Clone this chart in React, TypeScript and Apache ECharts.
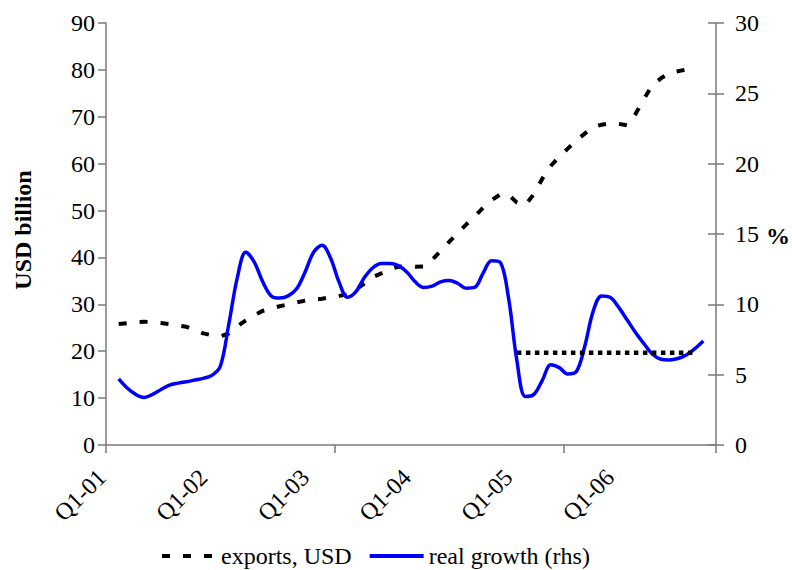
import React, { useEffect, useRef } from "react";
import * as echarts from "echarts";

const YEARS = ["01", "02", "03", "04", "05", "06"];
const MONTHS = ["01", "02", "03", "04", "05", "06", "07", "08", "09", "10", "11", "12"];
const TICK_LABELS = ["Q1-01", "Q1-02", "Q1-03", "Q1-04", "Q1-05", "Q1-06"];

// monthly categories, Jan-2001 .. Dec-2006
const CATEGORIES = YEARS.flatMap((y) => MONTHS.map((m) => `${m}-${y}`));

// exports, USD billion (left axis)
const EXPORTS = [
  null, 25.8, 26.0, 26.2, 26.3, 26.2, 26.0, 25.8, 25.5, 25.2, 24.5, 23.8,
  23.4, 23.2, 23.8, 25.3, 26.6, 27.7, 28.6, 29.1, 29.6, 30.0, 30.4, 30.8,
  31.0, 31.2, 31.5, 31.8, 32.1, 33.2, 34.4, 35.8, 36.6, 37.5, 38.0, 38.2,
  38.0, 38.1, 39.5, 41.4, 43.3, 45.2, 47.0, 48.7, 50.6, 52.2, 53.4, 53.4,
  51.7, 51.2, 53.5, 56.8, 59.5, 61.5, 63.2, 64.9, 66.4, 67.8, 68.3, 68.6,
  68.5, 68.2, 70.6, 73.8, 76.8, 78.2, 79.3, 79.7, 80.1, 80.5, null, null,
];

// real growth, % (right axis)
const GROWTH = [
  null, 4.7, 4.05, 3.6, 3.38, 3.6, 3.95, 4.26, 4.4, 4.5, 4.62, 4.74,
  4.95, 5.6, 8.6, 11.9, 13.7, 13.0, 11.6, 10.6, 10.45, 10.6, 11.1, 12.3,
  13.7, 14.2, 13.3, 11.6, 10.5, 10.9, 11.9, 12.6, 12.9, 12.9, 12.75, 12.3,
  11.6, 11.2, 11.3, 11.6, 11.7, 11.5, 11.15, 11.2, 12.2, 13.1, 13.0, 10.5,
  6.0, 3.45, 3.6, 4.6, 5.7, 5.5, 5.05, 5.2, 7.0, 9.5, 10.6, 10.5,
  9.8, 8.9, 8.0, 7.2, 6.45, 6.1, 6.05, 6.15, 6.4, 6.85, 7.4, null,
];

// dotted reference level, % (right axis)
const LEVEL_VALUE = 6.55;
const LEVEL_START = 48;
const LEVEL_END = 69;

const FONT = "Liberation Serif";
const AXIS_COLOR = "#7a7a7a";
const FS = 24;
const EXPORTS_STYLE = { color: "#000", width: 4, type: [8, 13] };
const GROWTH_STYLE = { color: "#0000ff", width: 3.5, type: "solid" };

export default function App() {
  const ref = useRef<HTMLDivElement>(null);

  useEffect(() => {
    if (!ref.current) return;
    const chart = echarts.init(ref.current, null, { renderer: "svg" });

    const level = CATEGORIES.map((_, i) =>
      i >= LEVEL_START && i <= LEVEL_END ? LEVEL_VALUE : null
    );

    chart.setOption({
      animation: false,
      backgroundColor: "#ffffff",
      textStyle: { fontFamily: FONT },
      grid: { left: 106, right: 76, top: 23, bottom: 125, containLabel: false },
      legend: {
        data: [
          { name: "exports, USD", lineStyle: { ...EXPORTS_STYLE } },
          { name: "real growth (rhs)", lineStyle: { ...GROWTH_STYLE, width: 4 } },
        ],
        left: 155,
        top: 539,
        itemWidth: 54,
        itemHeight: 14,
        itemGap: 16,
        itemStyle: { opacity: 0 },
        textStyle: { fontSize: FS, fontFamily: FONT, color: "#000" },
      },
      xAxis: {
        type: "category",
        data: CATEGORIES,
        boundaryGap: true,
        axisLine: { lineStyle: { color: AXIS_COLOR, width: 1.5 } },
        axisTick: { show: true, interval: 26, length: 8, lineStyle: { color: AXIS_COLOR, width: 1.5 } },
        axisLabel: {
          interval: 11,
          rotate: 45,
          margin: 20,
          padding: [0, 12, 0, 0],
          fontSize: FS,
          fontFamily: FONT,
          color: "#000",
          formatter: (_v: string, idx: number) =>
            idx % 12 === 0 ? TICK_LABELS[idx / 12] : "",
        },
        splitLine: { show: false },
      },
      yAxis: [
        {
          type: "value",
          position: "left",
          min: 0,
          max: 90,
          interval: 10,
          axisLine: { show: true, lineStyle: { color: AXIS_COLOR, width: 1.5 } },
          axisTick: { show: true, length: 8, lineStyle: { color: AXIS_COLOR, width: 1.5 } },
          axisLabel: { fontSize: FS, fontFamily: FONT, color: "#000", margin: 11 },
          splitLine: { show: false },
        },
        {
          type: "value",
          position: "right",
          min: 0,
          max: 30,
          interval: 5,
          axisLine: { show: true, lineStyle: { color: AXIS_COLOR, width: 1.5 } },
          axisTick: { show: true, length: 8, lineStyle: { color: AXIS_COLOR, width: 1.5 } },
          axisLabel: { fontSize: FS, fontFamily: FONT, color: "#000", margin: 19 },
          splitLine: { show: false },
        },
        {
          type: "value",
          position: "right",
          min: 0,
          max: 30,
          interval: 5,
          axisLine: { show: false },
          axisTick: { show: true, inside: true, length: 8, lineStyle: { color: AXIS_COLOR, width: 1.5 } },
          axisLabel: { show: false },
          splitLine: { show: false },
        },
      ],
      graphic: [
        {
          type: "text",
          x: 23,
          y: 230,
          rotation: Math.PI / 2,
          style: {
            text: "USD billion",
            fontSize: FS,
            fontWeight: "bold",
            fontFamily: FONT,
            fill: "#000",
            align: "center",
            verticalAlign: "middle",
          },
        },
        {
          type: "text",
          x: 766,
          y: 236,
          style: {
            text: "%",
            fontSize: FS,
            fontWeight: "bold",
            fontFamily: FONT,
            fill: "#000",
            align: "left",
            verticalAlign: "middle",
          },
        },
        {
          type: "text",
          x: 0,
          y: 566,
          style: {
            text: "Source: CEIC, Reuters EcoWin",
            fontSize: FS,
            fontFamily: FONT,
            fill: "#000",
            align: "left",
            verticalAlign: "top",
          },
        },
      ],
      series: [
        {
          name: "exports, USD",
          type: "line",
          yAxisIndex: 0,
          data: EXPORTS,
          symbol: "none",
          smooth: false,
          color: "#000",
          lineStyle: { ...EXPORTS_STYLE },
        },
        {
          name: "real growth (rhs)",
          type: "line",
          yAxisIndex: 1,
          data: GROWTH,
          symbol: "none",
          smooth: 0.35,
          color: "#0000ff",
          lineStyle: { ...GROWTH_STYLE },
        },
        {
          name: "level",
          type: "line",
          yAxisIndex: 1,
          data: level,
          symbol: "none",
          color: "#000",
          lineStyle: { color: "#000", width: 4.5, type: [4.5, 4.5] },
        },
      ],
    });

    return () => chart.dispose();
  }, []);

  return (
    <div
      ref={ref}
      style={{ position: "absolute", left: 0, top: 0, width: 792, height: 570, overflow: "hidden" }}
    />
  );
}
